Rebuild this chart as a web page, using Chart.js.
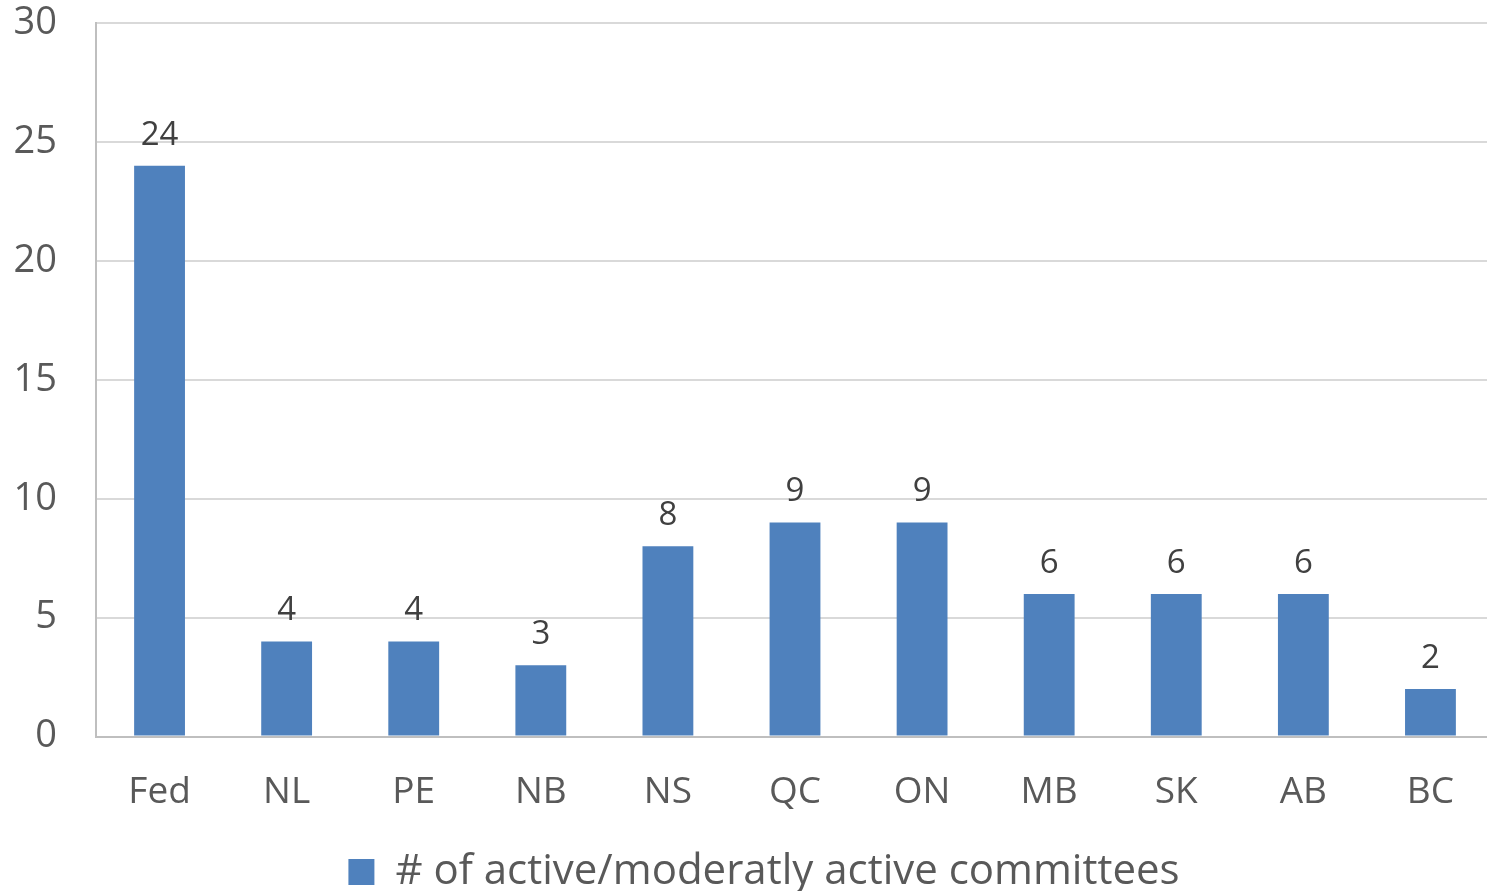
<!DOCTYPE html>
<html>
<head>
<meta charset="utf-8">
<script src="https://cdn.jsdelivr.net/npm/chart.js@4"></script>
<style>
  body { margin: 0; background: #fff; overflow: hidden; }
  #wrap { width: 1487px; height: 891px; overflow: hidden; }
  #box { width: 1494px; height: 891px; }
</style>
</head>
<body>
<div id="wrap"><div id="box"><canvas id="myChart"></canvas></div></div>
<script>
const categories = ["Fed", "NL", "PE", "NB", "NS", "QC", "ON", "MB", "SK", "AB", "BC"]
const committees = [24, 4, 4, 3, 8, 9, 9, 6, 6, 6, 2]
const seriesName = "# of active/moderatly active committees"
const yTicks = [0, 5, 10, 15, 20, 25, 30]

const textColor = "#595959"
const fontName = "'Open Sans', sans-serif"

// draws the value on top of each bar
const barValues = {
    id: "barValues",
    afterDatasetsDraw(chart) {
        const ctx = chart.ctx
        const meta = chart.getDatasetMeta(0)
        ctx.save()
        ctx.fillStyle = "#404040"
        ctx.font = "33px " + fontName
        ctx.textAlign = "center"
        ctx.textBaseline = "bottom"
        meta.data.forEach(function (bar, i) {
            ctx.fillText(chart.data.datasets[0].data[i], bar.x, bar.y - 14)
        })
        ctx.restore()
    }
}

// legend in the original sits a bit right of the page centre
const nudgeLegend = {
    id: "nudgeLegend",
    afterLayout(chart) {
        chart.legend.left += 17
        chart.legend.right += 17
    }
}

new Chart(document.getElementById("myChart"), {
    type: "bar",
    data: {
        labels: categories,
        datasets: [{
            label: seriesName,
            data: committees,
            backgroundColor: "#4f81bd",
            borderWidth: 0,
            categoryPercentage: 1,
            barPercentage: 0.4
        }]
    },
    options: {
        responsive: true,
        maintainAspectRatio: false,
        animation: false,
        layout: { padding: { top: 23, right: 0, left: 0, bottom: -12 } },
        plugins: {
            tooltip: { enabled: false },
            legend: {
                position: "bottom",
                labels: {
                    color: textColor,
                    font: { size: 42, family: fontName },
                    boxWidth: 26,
                    boxHeight: 26,
                    padding: 10
                }
            }
        },
        scales: {
            x: {
                grid: { display: false },
                border: { color: "#bfbfbf", width: 2 },
                ticks: {
                    color: textColor,
                    font: { size: 37, family: fontName },
                    padding: 26
                }
            },
            y: {
                min: 0,
                max: 30,
                afterFit(scale) {
                    scale.width = 96
                    scale.paddingTop = 0
                    scale.paddingBottom = 0
                },
                afterBuildTicks(scale) { scale.ticks = yTicks.map(v => ({ value: v })) },
                grid: { color: "#d9d9d9", lineWidth: 2, drawTicks: false },
                border: { color: "#bfbfbf", width: 2 },
                ticks: {
                    color: textColor,
                    font: { size: 38, family: fontName },
                    padding: 39
                }
            }
        }
    },
    plugins: [barValues, nudgeLegend]
})
</script>
</body>
</html>
